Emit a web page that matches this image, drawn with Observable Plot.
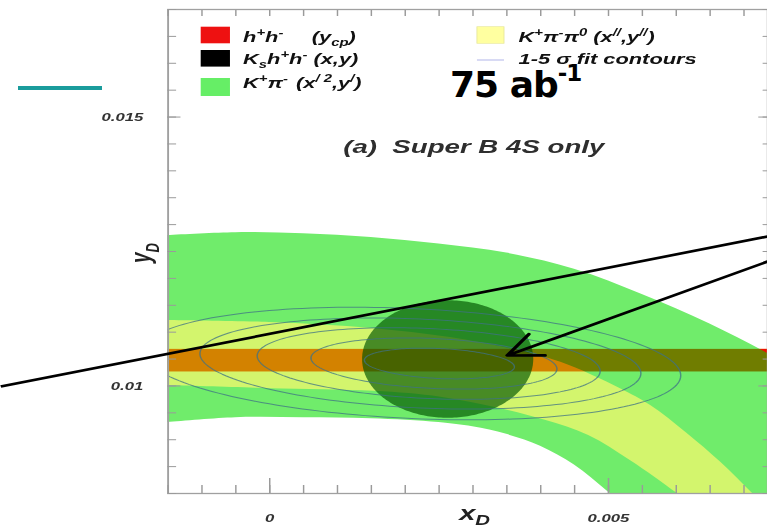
<!DOCTYPE html>
<html>
<head>
<meta charset="utf-8">
<script src="https://cdn.jsdelivr.net/npm/d3@7"></script>
<script src="https://cdn.jsdelivr.net/npm/@observablehq/plot@0.6"></script>
<style>
  html, body { margin: 0; padding: 0; background: #fff; overflow: hidden; }
  #slide { position: relative; width: 767px; height: 529px; overflow: hidden; background: #fff; }
  /* the figure is shown horizontally stretched, as on the slide */
  #stretch { position: absolute; left: 0; top: 0; width: 527px; height: 529px;
             transform: scaleX(1.4554); transform-origin: 0 0; }
  #overlay { position: absolute; left: 0; top: 0; pointer-events: none; }
</style>
</head>
<body>
<div id="slide">
  <div id="stretch"></div>
  <svg id="overlay" width="767" height="529"></svg>
</div>
<script>
// ---- axes (x_D, y_D) ----
const xDomain = [-0.0015, 0.00735];
const yDomain = [0.008, 0.017];
const xLabelTicks = [0, 0.005];
const yLabelTicks = [0.01, 0.015];
const minorStep = 0.0005;

// ---- K+pi- (x'^2, y') allowed band: upper and lower edges ----
const kpiUpperX = [-0.0016, -0.0005, 0.0005, 0.0015, 0.0025, 0.0035, 0.0045, 0.0055, 0.0065, 0.0075, 0.0085, 0.0095, 0.0105];
const kpiUpperY = [0.01279, 0.01285, 0.01283, 0.01276, 0.01264, 0.01247, 0.01217, 0.01170, 0.01115, 0.01050, 0.00975, 0.00890, 0.00795];
const kpiLowerX = [-0.0016, -0.0005, 0.0005, 0.0015, 0.0025, 0.0030, 0.0035, 0.0040, 0.0045, 0.0050, 0.0055, 0.0060, 0.0070];
const kpiLowerY = [0.00931, 0.00941, 0.00941, 0.00939, 0.00932, 0.00924, 0.00910, 0.00888, 0.00853, 0.00803, 0.00750, 0.00695, 0.00580];

// ---- K+pi-pi0 (x'', y'') allowed band ----
const kpipi0UpperX = [-0.0016, 0.0, 0.00151, 0.00267, 0.00366, 0.00430, 0.00518, 0.00562, 0.00616, 0.00666, 0.00713, 0.00747];
const kpipi0UpperY = [0.01122, 0.01118, 0.01107, 0.01090, 0.01066, 0.01044, 0.00995, 0.00964, 0.00912, 0.00858, 0.00800, 0.00759];
const kpipi0LowerX = [-0.0016, 0.0, 0.00155, 0.00253, 0.00340, 0.00407, 0.00471, 0.00533, 0.00602, 0.00651, 0.00695, 0.00740];
const kpipi0LowerY = [0.01001, 0.00995, 0.00990, 0.00979, 0.00958, 0.00936, 0.00908, 0.00861, 0.00800, 0.00755, 0.00713, 0.00666];

// ---- h+h- (y_CP) band ----
const ycpBand = [0.01026, 0.01068];

// ---- Ks h+h- (x, y) region ----
const kshhCenter = [0.002637, 0.010492];
const kshhHalfAxes = [0.001263, 0.001093];

// ---- 1-5 sigma fit contours ----
const contourSigma = [1, 2, 3, 4, 5];
const contourCenterX = [0.002504, 0.002424, 0.002346, 0.002224, 0.002097];
const contourCenterY = [0.010417, 0.010417, 0.010417, 0.010417, 0.010417];
const contourHalfX = [0.001107, 0.001815, 0.002531, 0.003254, 0.003969];
const contourHalfY = [0.000279, 0.000465, 0.000651, 0.000827, 0.001023];
const contourSlope = -0.056;

// ---- pointer lines drawn over the figure ----
const pointerLineFrom = [-0.00397, 0.00999];
const pointerLineTo = [0.00735, 0.012779];
const pointerArrowFrom = [0.00735, 0.012314];
const pointerArrowTo = [0.003505, 0.010566];

// ---------------------------------------------------------------
const band = (ux, uy, lx, ly) => ux.map((_, i) => ({xu: ux[i], yu: uy[i], xl: lx[i], yl: ly[i]}));
const kpiRows = band(kpiUpperX, kpiUpperY, kpiLowerX, kpiLowerY);
const kpipi0Rows = band(kpipi0UpperX, kpipi0UpperY, kpipi0LowerX, kpipi0LowerY);

const kshhDisk = d3.range(0, 121).map(i => {
  const t = Math.PI * i / 120;
  const dx = kshhHalfAxes[0] * Math.cos(t), dy = kshhHalfAxes[1] * Math.sin(t);
  return {x: kshhCenter[0] + dx, y1: kshhCenter[1] - dy, y2: kshhCenter[1] + dy};
});

const contourPts = contourSigma.flatMap((s, k) => d3.range(0, 181).map(i => {
  const t = 2 * Math.PI * i / 180;
  const dx = contourHalfX[k] * Math.cos(t);
  return {sigma: s, x: contourCenterX[k] + dx, y: contourCenterY[k] + contourHalfY[k] * Math.sin(t) + contourSlope * dx};
}));

const xMinor = d3.range(-3, 15).map(i => i * minorStep);
const yMinor = d3.range(16, 35).map(i => i * minorStep);
const fmt = d => d === 0 ? "0" : String(d);
const tickGrey = "#9a9a9a";
const sans = "'Liberation Sans', Arial, Helvetica, sans-serif";
const bandRect = [ycpBand];

const chart = Plot.plot({
  width: 527,
  height: 529,
  marginLeft: 115,
  marginRight: 0,
  marginTop: 9,
  marginBottom: 36,
  x: {domain: xDomain, label: null},
  y: {domain: yDomain, label: null},
  style: {background: "transparent", fontFamily: sans},
  marks: [
    Plot.rect(bandRect, {x1: xDomain[0], x2: xDomain[1], y1: d => d[0], y2: d => d[1], fill: "#ee1c1c"}),
    Plot.area(kpiRows, {x1: "xl", y1: "yl", x2: "xu", y2: "yu", fill: "#70ec6b", curve: "catmull-rom", clip: true}),
    Plot.area(kpipi0Rows, {x1: "xl", y1: "yl", x2: "xu", y2: "yu", fill: "#d3f56d", curve: "catmull-rom", clip: true}),
    Plot.rect(bandRect, {x1: xDomain[0], x2: xDomain[1], y1: d => d[0], y2: d => d[1], fill: "#ff8700", mixBlendMode: "multiply"}),
    Plot.areaY(kshhDisk, {x: "x", y1: "y1", y2: "y2", fill: "#005400", fillOpacity: 0.66, clip: true}),
    Plot.line(contourPts, {x: "x", y: "y", z: "sigma", stroke: "#3f7186", strokeWidth: 1, strokeOpacity: 0.75, clip: true}),
    Plot.frame({stroke: "#a0a0a0", strokeWidth: 1.3}),
    Plot.axisX(xMinor, {anchor: "bottom", tickSize: -8, stroke: tickGrey, fill: "none"}),
    Plot.axisX(xLabelTicks, {anchor: "bottom", tickSize: -15, tickPadding: 35.7, stroke: tickGrey, tickFormat: fmt,
      fontSize: 11.5, fontWeight: "bold", fontStyle: "italic", fill: "#333"}),
    Plot.axisX(xMinor, {anchor: "top", tickSize: -6, stroke: tickGrey, fill: "none"}),
    Plot.axisY(yMinor, {anchor: "left", tickSize: -6, stroke: tickGrey, fill: "none"}),
    Plot.axisY(yLabelTicks, {anchor: "left", tickSize: -9, tickPadding: 26, stroke: tickGrey, tickFormat: fmt,
      fontSize: 11.5, fontWeight: "bold", fontStyle: "italic", fill: "#333"}),
    Plot.axisY(yMinor, {anchor: "right", tickSize: -4, stroke: tickGrey, fill: "none"}),
    Plot.axisY(yLabelTicks, {anchor: "right", tickSize: -7, stroke: tickGrey, fill: "none"}),
    Plot.text(["(a)\u00a0 Super B 4S only"], {frameAnchor: "top-left", dx: 120.3, dy: 143, textAnchor: "start",
      lineAnchor: "bottom", fontSize: 19, fontWeight: "bold", fontStyle: "italic", fill: "#2e2e2e"}),
    Plot.link([0], {x1: pointerLineFrom[0], y1: pointerLineFrom[1], x2: pointerLineTo[0], y2: pointerLineTo[1],
      stroke: "#000", strokeWidth: 2.6}),
    Plot.arrow([0], {x1: pointerArrowFrom[0], y1: pointerArrowFrom[1], x2: pointerArrowTo[0], y2: pointerArrowTo[1],
      stroke: "#000", strokeWidth: 2.6, headLength: 15, headAngle: 55})
  ]
});

document.getElementById("stretch").appendChild(chart);
const svg = d3.select(chart);
// tick groups that only carry marks, no labels
svg.selectAll("g[aria-label$='tick label']").filter(function () { return this.getAttribute("fill") === "none"; }).remove();

// rich text with super/subscripts
function richText(parent, x, y, parts) {
  const t = parent.append("text").attr("x", x).attr("y", y);
  let shift = 0;
  for (const [s, mode] of parts) {
    const target = mode === "sup" ? -6 : mode === "sub" ? 4 : 0;
    t.append("tspan").attr("dy", target - shift).attr("font-size", mode ? "0.68em" : null).text(s);
    shift = target;
  }
  return t;
}

// legend
const lg = svg.append("g").attr("font-family", sans).attr("font-weight", "bold").attr("text-anchor", "start")
  .attr("font-style", "italic").attr("font-size", 15).attr("fill", "#111");
lg.append("rect").attr("x", 137.9).attr("y", 26.7).attr("width", 20.1).attr("height", 16.6).attr("fill", "#ee1111");
lg.append("rect").attr("x", 137.9).attr("y", 50).attr("width", 20.1).attr("height", 16.6).attr("fill", "#000");
lg.append("rect").attr("x", 137.9).attr("y", 78).attr("width", 20.1).attr("height", 18).attr("fill", "#66ee66");
lg.append("rect").attr("x", 327.7).attr("y", 26.7).attr("width", 18.6).attr("height", 16.6).attr("fill", "#ffffa0")
  .attr("stroke", "#e6e69a").attr("stroke-width", 0.6);
lg.append("line").attr("x1", 327.7).attr("x2", 346.3).attr("y1", 60).attr("y2", 60).attr("stroke", "#b0b4e8").attr("stroke-width", 1);

richText(lg, 167, 42.5, [["h"], ["+", "sup"], ["h"], ["-", "sup"]]);
richText(lg, 214.2, 42.5, [["(y"], ["cp", "sub"], [")"]]);
richText(lg, 167, 64.5, [["K"], ["s", "sub"], ["h"], ["+", "sup"], ["h"], ["-", "sup"], [" (x,y)"]]);
richText(lg, 167, 88, [["K"], ["+", "sup"], ["π"], ["-", "sup"]]);
richText(lg, 203.4, 88, [["(x"], ["/ 2", "sup"], [",y"], ["/", "sup"], [")"]]);
richText(lg, 356.3, 42.5, [["K"], ["+", "sup"], ["π"], ["-", "sup"], ["π"], ["0", "sup"], [" (x"], ["//", "sup"], [",y"], ["//", "sup"], [")"]]);
richText(lg, 356.3, 64.5, [["1-5 σ fit contours"]]);

// axis titles
const at = svg.append("g").attr("font-family", sans).attr("font-weight", "bold").attr("text-anchor", "start")
  .attr("font-style", "italic").attr("fill", "#222");
const xt = at.append("text").attr("x", 315.5).attr("y", 520).attr("font-size", 20);
xt.append("tspan").text("x");
xt.append("tspan").attr("dy", 5.5).attr("font-size", 14).text("D");
const yt = at.append("text").attr("transform", "translate(103,263) rotate(-90)").attr("font-size", 19);
yt.append("tspan").text("y");
yt.append("tspan").attr("dy", 6).attr("font-size", 13).text("D");

// slide decorations on top (not stretched)
const ov = d3.select("#overlay");
ov.append("line").attr("x1", 18).attr("x2", 102).attr("y1", 88).attr("y2", 88)
  .attr("stroke", "#1a9c9c").attr("stroke-width", 4);
const lum = ov.append("text").attr("x", 450).attr("y", 96.7)
  .attr("font-family", "'DejaVu Sans', sans-serif").attr("font-weight", "bold")
  .attr("font-size", 36).attr("letter-spacing", -1).attr("fill", "#000");
lum.append("tspan").text("75 ab");
lum.append("tspan").attr("dy", -16).attr("font-size", 23).text("-1");
</script>
</body>
</html>
